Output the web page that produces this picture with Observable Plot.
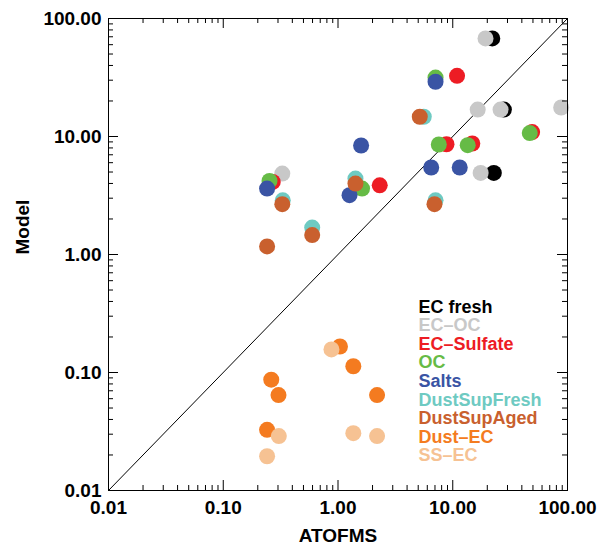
<!DOCTYPE html>
<html>
<head>
<meta charset="utf-8">
<script src="https://cdn.jsdelivr.net/npm/d3@7"></script>
<script src="https://cdn.jsdelivr.net/npm/@observablehq/plot@0.6"></script>
<style>
  html, body { margin: 0; padding: 0; background: #fff; }
  svg { display: block; }
</style>
</head>
<body>
<div id="chart"></div>
<script>
// ---- data ----
const species = ["EC fresh", "EC\u2013OC", "EC\u2013Sulfate", "OC", "Salts", "DustSupFresh", "DustSupAged", "Dust\u2013EC", "SS\u2013EC"];
const speciesColors = ["#000000", "#c8c8c8", "#ed1c24", "#66bb46", "#3a54a4", "#6ecac2", "#c9602e", "#f47b20", "#f6c293"];

const ecFreshX = [22.1, 27.9, 22.8];
const ecFreshY = [67.8, 16.9, 4.91];
const ecOcX = [19.3, 16.5, 26.1, 88.1, 17.5, 0.327];
const ecOcY = [67.8, 16.9, 16.9, 17.6, 4.91, 4.85];
const ecSulfateX = [10.9, 49.2, 8.82, 14.8, 0.270, 2.31];
const ecSulfateY = [32.7, 10.9, 8.60, 8.72, 4.12, 3.86];
const ocX = [7.08, 46.9, 7.56, 13.5, 0.253, 1.62];
const ocY = [31.6, 10.7, 8.55, 8.44, 4.20, 3.62];
const saltsX = [7.08, 1.59, 6.49, 11.5, 0.241, 1.26];
const saltsY = [29.1, 8.39, 5.46, 5.46, 3.62, 3.18];
const dustSupFreshX = [5.59, 0.330, 1.42, 7.08, 0.596];
const dustSupFreshY = [14.7, 2.88, 4.40, 2.88, 1.69];
const dustSupAgedX = [5.16, 0.327, 1.42, 6.93, 0.596, 0.241];
const dustSupAgedY = [14.7, 2.67, 3.99, 2.67, 1.46, 1.17];
const dustEcX = [1.04, 1.36, 0.262, 0.303, 2.19, 0.241];
const dustEcY = [0.166, 0.113, 0.0869, 0.0644, 0.0644, 0.0327];
const ssEcX = [0.877, 0.305, 0.241, 1.36, 2.19];
const ssEcY = [0.157, 0.0289, 0.0195, 0.0306, 0.0289];

const majorTicks = [0.01, 0.1, 1, 10, 100];
const tickLabels = ["0.01", "0.10", "1.00", "10.00", "100.00"];
const diagonal = [0.01, 100];
const xTitle = "ATOFMS";
const yTitle = "Model";

// ---- build table ----
const seriesX = [ecFreshX, ecOcX, ecSulfateX, ocX, saltsX, dustSupFreshX, dustSupAgedX, dustEcX, ssEcX];
const seriesY = [ecFreshY, ecOcY, ecSulfateY, ocY, saltsY, dustSupFreshY, dustSupAgedY, dustEcY, ssEcY];
const points = [];
species.forEach((s, i) => seriesX[i].forEach((x, j) => points.push({species: s, x, y: seriesY[i][j]})));

const minorTicks = [];
for (let e = -2; e < 2; e++) for (let m = 2; m <= 9; m++) minorTicks.push(m * Math.pow(10, e));

const W = 598, H = 546;
const mL = 108, mR = 31, mT = 18, mB = 56;
const pw = W - mL - mR, ph = H - mT - mB;
const font = "'Liberation Sans', Arial, Helvetica, sans-serif";
const major = 10, minor = 5;

const legendMarks = species.map((s, i) => Plot.text([s], {
  frameAnchor: "top-left", textAnchor: "start", lineAnchor: "bottom",
  dx: 310, dy: 312 + i * 18.6 - mT,
  fill: speciesColors[i], fontSize: 18, fontWeight: "bold", fontFamily: font
}));

const chart = Plot.plot({
  width: W, height: H,
  marginLeft: mL, marginRight: mR, marginTop: mT, marginBottom: mB,
  style: {fontFamily: font, background: "#fff"},
  x: {type: "log", domain: [0.01, 100], axis: null},
  y: {type: "log", domain: [0.01, 100], axis: null},
  color: {domain: species, range: speciesColors},
  marks: [
    Plot.line(diagonal, {x: d => d, y: d => d, stroke: "#000", strokeWidth: 1}),
    Plot.dot(points, {x: "x", y: "y", r: 8, fill: "species", stroke: null}),
    ...legendMarks,
    // ticks: bottom & top
    Plot.ruleX(majorTicks, {x: d => d, insetTop: ph - major, stroke: "#000"}),
    Plot.ruleX(minorTicks, {x: d => d, insetTop: ph - minor, stroke: "#000"}),
    Plot.ruleX(majorTicks, {x: d => d, insetBottom: ph - major, stroke: "#000"}),
    Plot.ruleX(minorTicks, {x: d => d, insetBottom: ph - minor, stroke: "#000"}),
    // ticks: left & right
    Plot.ruleY(majorTicks, {y: d => d, insetRight: pw - major, stroke: "#000"}),
    Plot.ruleY(minorTicks, {y: d => d, insetRight: pw - minor, stroke: "#000"}),
    Plot.ruleY(majorTicks, {y: d => d, insetLeft: pw - major, stroke: "#000"}),
    Plot.ruleY(minorTicks, {y: d => d, insetLeft: pw - minor, stroke: "#000"}),
    Plot.frame({stroke: "#000", strokeWidth: 1}),
    // tick labels
    Plot.text(majorTicks, {x: d => d, frameAnchor: "bottom", lineAnchor: "top", dy: 10,
      text: (d, i) => tickLabels[i], fontSize: 19, fontWeight: "bold", fill: "#000"}),
    Plot.text(majorTicks, {y: d => d, frameAnchor: "left", textAnchor: "end", lineAnchor: "middle", dx: -7,
      text: (d, i) => tickLabels[i], fontSize: 19, fontWeight: "bold", fill: "#000"}),
    // axis titles
    Plot.text([xTitle], {frameAnchor: "bottom", lineAnchor: "bottom", dy: 51,
      fontSize: 19, fontWeight: "bold", fill: "#000"}),
    Plot.text([yTitle], {frameAnchor: "left", lineAnchor: "bottom", rotate: -90, dx: -80,
      fontSize: 19, fontWeight: "bold", fill: "#000"})
  ]
});
document.getElementById("chart").appendChild(chart);
</script>
</body>
</html>
